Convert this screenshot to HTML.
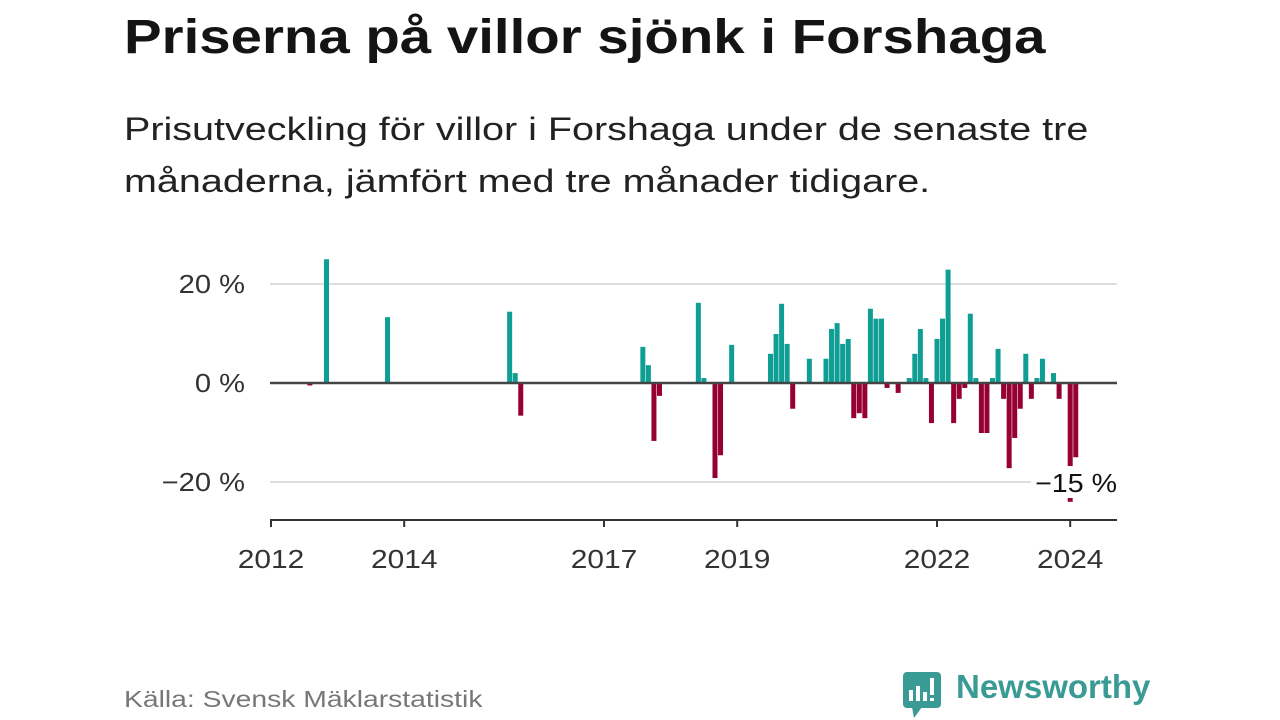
<!DOCTYPE html>
<html><head><meta charset="utf-8">
<style>
body{margin:0;width:1280px;height:720px;background:#fff;font-family:"Liberation Sans",sans-serif;overflow:hidden;position:relative}
.t{position:absolute;left:124px;top:10px;font-size:48px;font-weight:bold;color:#141414;white-space:nowrap;transform:scaleX(1.175);transform-origin:0 0}
.s{position:absolute;left:124px;top:103px;font-size:32px;line-height:52px;color:#222;white-space:nowrap;transform:scaleX(1.235);transform-origin:0 0}
.src{position:absolute;left:124px;top:686px;font-size:23px;color:#777;white-space:nowrap;transform:scaleX(1.23);transform-origin:0 0}
.logo{position:absolute;left:956px;top:668px;font-size:33px;font-weight:bold;color:#3a9a94}
svg{position:absolute;left:0;top:0}
</style></head><body>
<div class="t">Priserna på villor sjönk i Forshaga</div>
<div class="s">Prisutveckling för villor i Forshaga under de senaste tre<br>månaderna, jämfört med tre månader tidigare.</div>
<div class="src">Källa: Svensk Mäklarstatistik</div>
<div class="logo">Newsworthy</div>
<svg width="1280" height="720" id="chart">
<g>
<rect x="903" y="672" width="38" height="36" rx="4" fill="#3a9a94"/>
<polygon points="912,707 922,707 914,718" fill="#3a9a94"/>
<rect x="909" y="690" width="4" height="11" fill="#fff"/><rect x="916" y="686" width="4" height="15" fill="#fff"/><rect x="923" y="692" width="4" height="9" fill="#fff"/><rect x="930" y="678" width="4" height="17" fill="#fff"/><rect x="930" y="698" width="4" height="3" fill="#fff"/>
</g>
</svg>
<script>
const months=[7,10,21,43,44,45,67,68,69,70,77,78,80,81,83,90,91,92,93,94,97,100,101,102,103,104,105,106,107,108,109,110,111,113,115,116,117,118,119,120,121,122,123,124,125,126,127,128,129,130,131,132,133,134,135,136,137,138,139,141,142,144,145];
const values=[-0.5,25,13.3,14.4,2,-6.6,7.3,3.6,-11.7,-2.6,16.2,1,-19.2,-14.6,7.7,5.9,9.9,16,7.9,-5.2,4.9,4.9,10.9,12.1,7.9,8.9,-7.1,-6.1,-7.1,15,13,13,-1,-2,1,5.9,10.9,1,-8.1,8.9,13,22.9,-8.1,-3.2,-1,14,1,-10.1,-10.1,1,6.9,-3.2,-17.2,-11.1,-5.2,5.9,-3.2,1,4.9,2,-3.2,-24,-15];
const yTicks=[20,0,-20];
const yTickLabels=["20 %","0 %","−20 %"];
const xYears=[2012,2014,2017,2019,2022,2024];
const NS="http://www.w3.org/2000/svg";
const svg=document.getElementById('chart');
const x0=271,pxMonth=5.55,y0=383,pxPct=4.95;
const xm=m=>x0+m*pxMonth;
const xy=yr=>xm((yr-2012)*12);
const ys=v=>y0-v*pxPct;
const FF='Liberation Sans, sans-serif';
function mk(tag,attrs){const e=document.createElementNS(NS,tag);for(const k in attrs)e.setAttribute(k,attrs[k]);svg.appendChild(e);return e;}
yTicks.forEach((v,i)=>{
 if(v!==0){const g=mk('line',{x1:270,x2:1117,y1:ys(v),y2:ys(v),stroke:'#ddd','stroke-width':2});
 
 }
 const t=mk('text',{x:245,y:ys(v)+9,'text-anchor':'end','font-size':26,fill:'#333','font-family':FF,transform:'translate(245,0) scale(1.12,1) translate(-245,0)'});
 t.textContent=yTickLabels[i];
 
 
});
months.forEach((m,i)=>{
 const v=values[i];const c=xm(m);
 const r=mk('rect',{x:c-2.5,width:5,y:Math.min(ys(v),y0),height:Math.abs(ys(v)-y0),fill:v>=0?'#0e9e94':'#960034'});
 
 
});
const zl=mk('line',{x1:270,x2:1117,y1:y0,y2:y0,stroke:'#444','stroke-width':2.5});


const lb=mk('rect',{x:1031,y:466,width:88,height:32,fill:'#fff'});


const lt=mk('text',{x:1117,y:492,'text-anchor':'end','font-size':26,fill:'#111','font-family':FF,transform:'translate(1117,0) scale(1.1,1) translate(-1117,0)'});
lt.textContent='−15 %';


const ax=mk('line',{x1:270,x2:1117,y1:520,y2:520,stroke:'#333','stroke-width':2});


xYears.forEach(yr=>{
 const tk=mk('line',{x1:xy(yr),x2:xy(yr),y1:520,y2:527,stroke:'#333','stroke-width':2});
 
 
 const t=mk('text',{x:xy(yr),y:568,'text-anchor':'middle','font-size':26,fill:'#333','font-family':FF,transform:`translate(${xy(yr)},0) scale(1.15,1) translate(${-xy(yr)},0)`});
 t.textContent=yr;
 
 
});
</script>
</body></html>
